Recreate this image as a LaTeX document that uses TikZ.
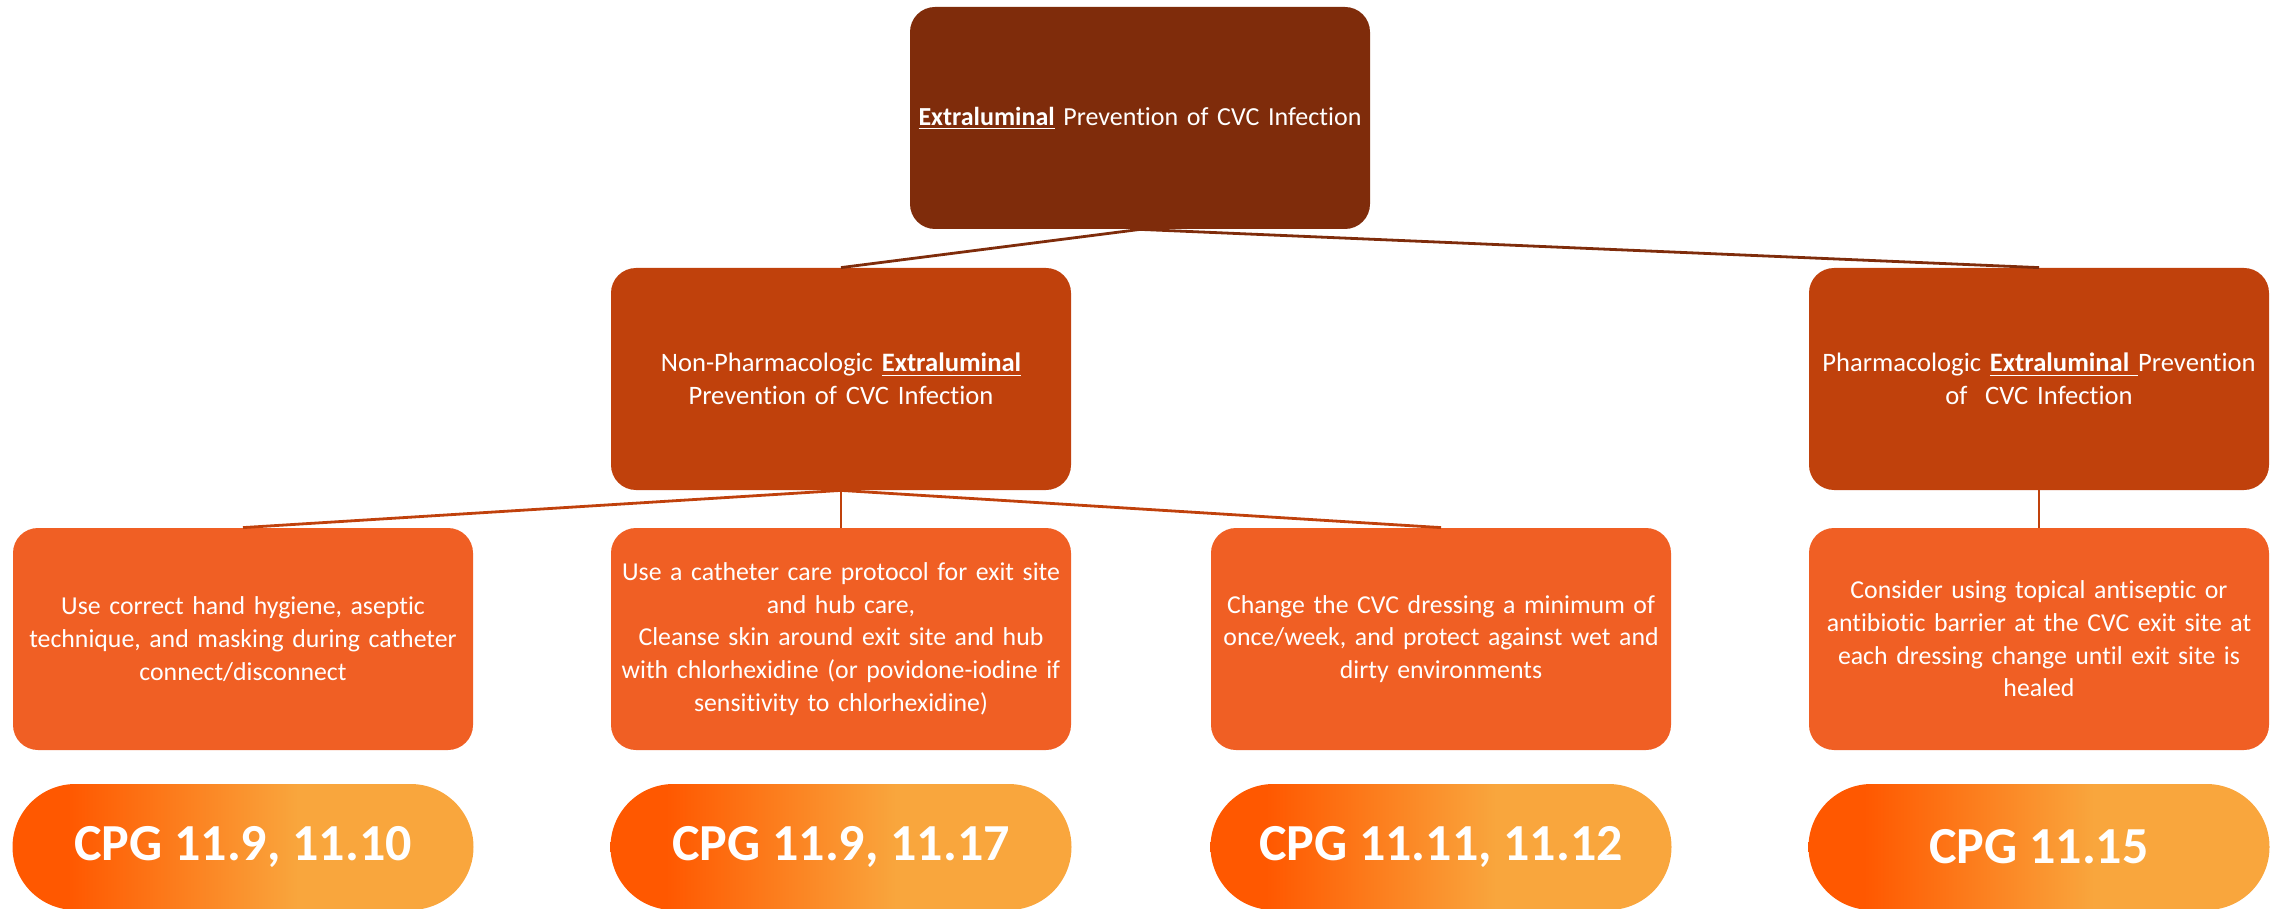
\documentclass[tikz,border=0pt]{standalone}
\usepackage{fontspec}
\setmainfont[Ligatures=NoCommon]{Carlito}
\usepackage{tikz}
\usetikzlibrary{positioning,shadings}
\definecolor{toptone}{HTML}{7F2C0B}
\definecolor{midtone}{HTML}{C0410C}
\definecolor{lowtone}{HTML}{F05F24}
\definecolor{pillA}{HTML}{FF5800}
\definecolor{pillB}{HTML}{F9A63D}
\pgfdeclarehorizontalshading{pillshade}{100bp}{color(0bp)=(pillA); color(31bp)=(pillA);
  color(56bp)=(pillB); color(100bp)=(pillB)}

\begin{document}
\begin{tikzpicture}[x=0.5pt, y=-0.5pt,
    box/.style={rounded corners=12.5pt, minimum width=230pt, minimum height=111pt,
      inner sep=1pt, text width=228pt, align=center, text=white, font=\fontsize{12.9}{16.3}\selectfont},
    topbox/.style={box, fill=toptone, font=\fontsize{13}{16}\selectfont},
    midbox/.style={box, fill=midtone, font=\fontsize{13.3}{16.3}\selectfont},
    lowbox/.style={box, fill=lowtone},
    pill/.style={rounded corners=31.5pt, minimum width=230.5pt, minimum height=63pt,
      inner sep=0pt, shading=pillshade, text=white, font=\fontsize{26}{30}\selectfont\bfseries},
    toplink/.style={draw=toptone, line width=1.4pt},
    midlink/.style={draw=midtone, line width=1.4pt}]
\useasboundingbox (0,0) rectangle (2282,909);
% tree of boxes
\node[topbox] (root) at (1140,118) {\underline{\textbf{Extraluminal}} Prevention of CVC Infection};
\node[midbox] (nonpharm) at (841,379) {Non-Pharmacologic \underline{\textbf{Extraluminal}}\\ Prevention of CVC Infection};
\node[midbox] (pharm) at (2039,379) {Pharmacologic \underline{\textbf{Extraluminal}\ }Prevention\\ of~ CVC Infection};
\node[lowbox] (hygiene) at (243,639) {Use correct hand hygiene, aseptic\\ technique, and masking during catheter\\ connect/disconnect};
\node[lowbox] (protocol) at (841,639) {Use a catheter care protocol for exit site\\ and hub care,\\ Cleanse skin around exit site and hub\\ with chlorhexidine (or povidone-iodine if\\ sensitivity to chlorhexidine)};
\node[lowbox] (dressing) at (1441,639) {Change the CVC dressing a minimum of\\ once/week, and protect against wet and\\ dirty environments};
\node[lowbox] (barrier) at (2039,639) {Consider using topical antiseptic or\\ antibiotic barrier at the CVC exit site at\\ each dressing change until exit site is\\ healed};
% guideline pills
\node[pill] (cpgA) at (243,847) {CPG 11.9, 11.10};
\node[pill] (cpgB) at (841,847) {CPG 11.9, 11.17};
\node[pill] (cpgC) at (1441,847) {CPG 11.11, 11.12};
\node[pill] (cpgD) at (2039,847) {CPG 11.15};
% links
\draw[toplink] (root.south) -- (nonpharm.north);
\draw[toplink] (root.south) -- (pharm.north);
\draw[midlink] (nonpharm.south) -- (hygiene.north);
\draw[midlink] (nonpharm.south) -- (protocol.north);
\draw[midlink] (nonpharm.south) -- (dressing.north);
\draw[midlink] (pharm.south) -- (barrier.north);
\end{tikzpicture}
\end{document}
